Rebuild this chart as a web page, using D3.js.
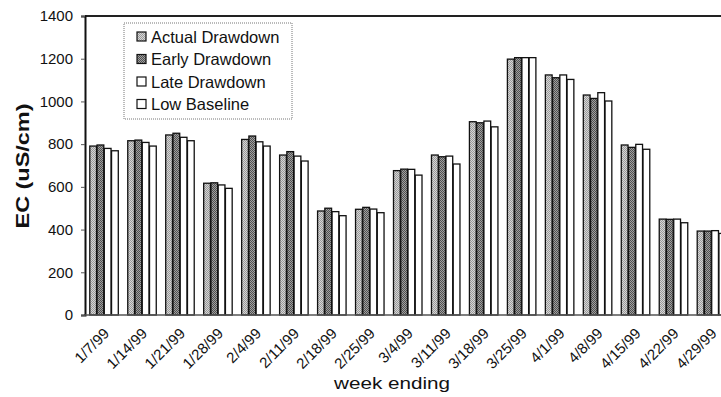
<!DOCTYPE html>
<html><head><meta charset="utf-8">
<script src="https://cdn.jsdelivr.net/npm/d3@7"></script>
<style>
html,body{margin:0;padding:0;background:#fff;}
svg{display:block;font-family:"Liberation Sans",Arial,sans-serif;}
</style></head>
<body><svg id="c" width="721" height="397"></svg>
<script>
const categories = ["1/7/99","1/14/99","1/21/99","1/28/99","2/4/99","2/11/99","2/18/99","2/25/99","3/4/99","3/11/99","3/18/99","3/25/99","4/1/99","4/8/99","4/15/99","4/22/99","4/29/99"];
const seriesNames = ["Actual Drawdown","Early Drawdown","Late Drawdown","Low Baseline"];
const actualDrawdown = [791,816,843,617,822,749,487,495,676,749,905,1198,1124,1030,796,449,393];
const earlyDrawdown  = [796,819,851,619,838,765,500,504,683,741,900,1205,1111,1014,785,448,393];
const lateDrawdown   = [780,808,832,609,811,744,484,496,682,744,908,1205,1124,1041,799,449,395];
const lowBaseline    = [769,791,816,593,791,721,465,479,655,707,881,1205,1103,1002,776,432,382];
const yTicks = [0,200,400,600,800,1000,1200,1400];

(function(){
const series = [actualDrawdown, earlyDrawdown, lateDrawdown, lowBaseline];
const svg = d3.select("#c");
const defs = svg.append("defs");
function checker(id, a, b){
  const p = defs.append("pattern").attr("id",id).attr("width",2).attr("height",2).attr("patternUnits","userSpaceOnUse");
  p.append("rect").attr("width",2).attr("height",2).attr("fill",a);
  p.append("rect").attr("width",1).attr("height",1).attr("fill",b);
  p.append("rect").attr("x",1).attr("y",1).attr("width",1).attr("height",1).attr("fill",b);
}
checker("pA","#d6d6d6","#9a9a9a");
checker("pB","#a0a0a0","#505050");
const fills = ["url(#pA)","url(#pB)","#fff","#fff"];

const mLeft = 85, mTop = 16, mBottom = 315;
const x = d3.scaleBand().domain(categories).range([mLeft, 730]).paddingInner(0.236).paddingOuter(0.113);
const xs = d3.scaleBand().domain(d3.range(4)).range([0, x.bandwidth()]).padding(0);
const y = d3.scaleLinear().domain([0,1400]).range([mBottom, mTop]);

svg.append("line").attr("x1",mLeft).attr("x2",721).attr("y1",mTop).attr("y2",mTop).attr("stroke","#222").attr("stroke-width",2);

const g = svg.append("g");
categories.forEach((c,i)=>{
  series.forEach((s,j)=>{
    g.append("rect")
      .attr("x", x(c)+xs(j)+0.5)
      .attr("y", y(s[i]))
      .attr("width", xs.bandwidth()-0.5)
      .attr("height", y(0)-y(s[i]))
      .attr("fill", fills[j]).attr("stroke","#111").attr("stroke-width",1.3);
  });
});

const ya = svg.append("g").attr("transform",`translate(${mLeft},0)`)
  .call(d3.axisLeft(y).tickValues(yTicks).tickSize(4).tickPadding(8).tickFormat(d3.format("d")));
ya.select(".domain").attr("stroke","#111").attr("stroke-width",2);
ya.selectAll(".tick line").attr("stroke","#555");
ya.selectAll(".tick text").attr("font-size",15).attr("fill","#111").attr("font-family","Liberation Sans, Arial, sans-serif");

const xa = svg.append("g").attr("transform",`translate(0,${mBottom})`)
  .call(d3.axisBottom(x).tickSize(0).tickFormat(""));
xa.select(".domain").attr("stroke","#555").attr("stroke-width",1.5).attr("d",`M${mLeft},0H721`);
svg.append("g").selectAll("text").data(categories).join("text")
  .attr("transform", d=>`translate(${x(d)+x.bandwidth()/2-1},${mBottom+12}) rotate(-45)`)
  .attr("text-anchor","end").attr("dy","0.7em")
  .attr("font-size",15).attr("fill","#111").text(d=>d);

svg.append("text").attr("x",392).attr("y",389).attr("text-anchor","middle").attr("font-size",16)
  .attr("textLength",116).attr("lengthAdjust","spacingAndGlyphs").attr("fill","#111").text("week ending");
svg.append("text").attr("transform","translate(29,166) rotate(-90)").attr("text-anchor","middle")
  .attr("font-size",18).attr("font-weight","bold").attr("textLength",125).attr("lengthAdjust","spacingAndGlyphs")
  .attr("fill","#111").text("EC (uS/cm)");

const lg = svg.append("g");
lg.append("rect").attr("x",124).attr("y",23).attr("width",168).attr("height",96)
  .attr("fill","#fff").attr("stroke","#777").attr("stroke-width",1).attr("stroke-dasharray","1,1");
seriesNames.forEach((n,j)=>{
  const yy = 37 + j*22.5;
  lg.append("rect").attr("x",137).attr("y",yy-5).attr("width",9).attr("height",9)
    .attr("fill",fills[j]).attr("stroke","#111").attr("stroke-width",1.2);
  lg.append("text").attr("x",151).attr("y",yy).attr("dy","0.35em").attr("font-size",16.5).attr("fill","#111").text(n);
});
})();
</script></body></html>
